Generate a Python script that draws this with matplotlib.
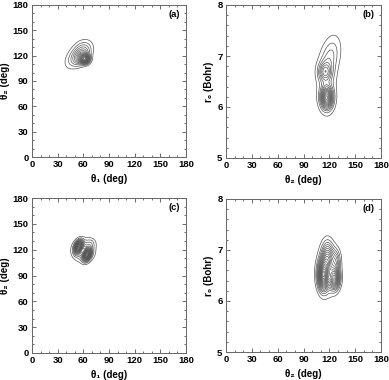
import numpy as np
import matplotlib
matplotlib.use("Agg")
import matplotlib.pyplot as plt
from matplotlib.ticker import MultipleLocator

plt.rcParams['font.family'] = ['Liberation Sans', 'DejaVu Sans']
plt.rcParams['font.weight'] = 'bold'

# Gaussian components: (x0, y0, sx, sy, rho, amplitude)
comp_a = [(62, 116, 3.5, 3.5, 0.0, 1.0),
          (58, 118, 6.0, 6.0, 0.3, 0.45),
          (53, 121, 9.0, 10.0, 0.55, 0.3),
          (62, 129, 7.0, 6.0, 0.0, 0.12)]
comp_b = [(117, 6.18, 4.5, 0.14, 0.0, 1.0),
          (115, 6.69, 5.0, 0.12, 0.0, 0.42),
          (121, 6.98, 7.5, 0.26, 0.35, 0.25),
          (117, 6.45, 7.5, 0.35, 0.0, 0.15)]
comp_c = [(54.5, 123.5, 3.0, 4.5, 0.35, 1.0),
          (64.5, 114.5, 3.0, 4.5, 0.35, 1.0),
          (60, 119, 8.5, 8.5, 0.0, 0.3),
          (69, 128, 4.0, 4.0, 0.0, 0.1)]
comp_d = [(113, 6.5, 4.0, 0.18, 0.0, 1.0),
          (126, 6.45, 4.0, 0.14, 0.0, 0.8),
          (118, 6.85, 4.5, 0.2, 0.0, 0.5),
          (128, 6.8, 3.5, 0.15, 0.0, 0.25),
          (118, 6.6, 8.0, 0.32, 0.0, 0.25)]

panels = [
    ("(a)", comp_a, (0, 180), (0, 180), "θ₁ (deg)", "θ₂ (deg)"),
    ("(b)", comp_b, (0, 180), (5, 8), "θ₂ (deg)", "r₀ (Bohr)"),
    ("(c)", comp_c, (0, 180), (0, 180), "θ₁ (deg)", "θ₂ (deg)"),
    ("(d)", comp_d, (0, 180), (5, 8), "θ₂ (deg)", "r₀ (Bohr)"),
]
n_levels = [16, 13, 18, 17]

W, H = 389, 380
fig = plt.figure(figsize=(W / 100, H / 100), dpi=100)
rects = [(32, 5, 186, 157), (226, 5, 381, 158), (32, 198, 186, 353), (226, 199, 381, 352)]


def density(X, Y, comps):
    Z = np.zeros_like(X)
    for x0, y0, sx, sy, rho, amp in comps:
        u = (X - x0) / sx
        v = (Y - y0) / sy
        Z += amp * np.exp(-(u * u - 2 * rho * u * v + v * v) / (2 * (1 - rho ** 2)))
    return Z

for (lab, comps, xl, yl, xlab, ylab), (l, t, r, b), nl in zip(panels, rects, n_levels):
    ax = fig.add_axes([l / W, 1 - b / H, (r - l) / W, (b - t) / H])
    x = np.linspace(xl[0], xl[1], 400)
    y = np.linspace(yl[0], yl[1], 400)
    X, Y = np.meshgrid(x, y)
    Z = density(X, Y, comps)
    levels = np.linspace(0.06, 0.97, nl) * Z.max()
    ax.contour(X, Y, Z, levels=levels, colors='#555555', linewidths=0.5)
    ax.set_xlim(xl)
    ax.set_ylim(yl)
    ax.xaxis.set_major_locator(MultipleLocator(30))
    ax.xaxis.set_minor_locator(MultipleLocator(10))
    if yl[1] == 180:
        ax.yaxis.set_major_locator(MultipleLocator(30))
        ax.yaxis.set_minor_locator(MultipleLocator(10))
    else:
        ax.yaxis.set_major_locator(MultipleLocator(1))
        ax.yaxis.set_minor_locator(MultipleLocator(0.2))
    ax.tick_params(which='both', direction='in', top=True, right=True, labelsize=6.8,
                   width=0.6, color='#555555', pad=2.5)
    ax.tick_params(which='major', length=3)
    ax.tick_params(which='minor', length=1.6)
    for tl in ax.get_xticklabels() + ax.get_yticklabels():
        tl.set_fontweight('bold')
    for s in ax.spines.values():
        s.set_linewidth(0.7)
        s.set_color('#666666')
    ax.set_xlabel(xlab, fontsize=7, labelpad=3, fontweight='bold')
    ax.set_ylabel(ylab, fontsize=7, labelpad=2, fontweight='bold')
    ax.text(0.96, 0.94, lab, transform=ax.transAxes, ha='right', va='center',
            fontsize=6.8, fontweight='bold')

fig.savefig("out.png", dpi=100)
